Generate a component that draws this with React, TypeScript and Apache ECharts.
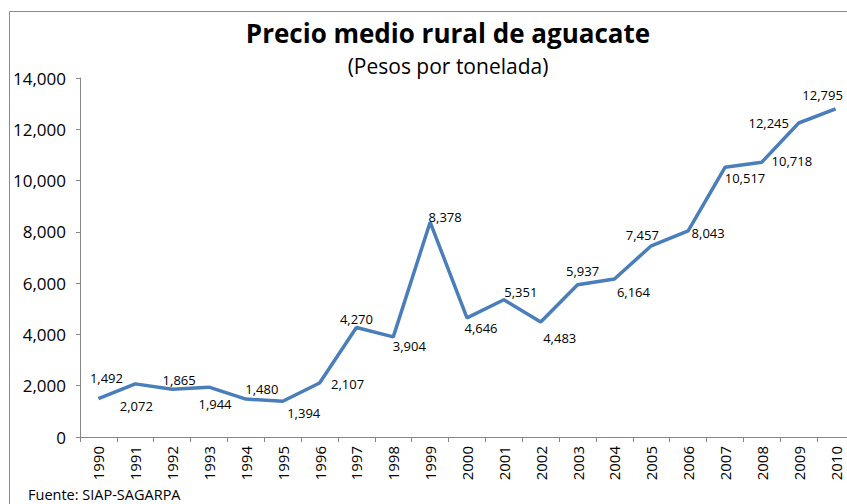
import React, { useEffect, useRef } from "react";
import * as echarts from "echarts";

const years = ["1990","1991","1992","1993","1994","1995","1996","1997","1998","1999","2000","2001","2002","2003","2004","2005","2006","2007","2008","2009","2010"];
const prices = [1492, 2072, 1865, 1944, 1480, 1394, 2107, 4270, 3904, 8378, 4646, 5351, 4483, 5937, 6164, 7457, 8043, 10517, 10718, 12245, 12795];
const yTicks = [0, 2000, 4000, 6000, 8000, 10000, 12000, 14000];
const labelOffsets: [number, number][] = [
  [8, -21], [1, 22], [7, -9], [6, 17], [16, -10], [21, 12], [28, 1], [0, -9], [16, 9], [15, -5],
  [14, 10], [17, -8], [19, 16], [5, -14], [19, 13], [-9, -11], [20, 2], [20, 11], [30, -1], [-30, 0], [-13, -14],
];

const fmt = (v: number) => v.toLocaleString("en-US");
const FONT = "'Open Sans', sans-serif";

export default function App() {
  const ref = useRef<HTMLDivElement>(null);
  useEffect(() => {
    document.body.style.margin = "0";
    const chart = echarts.init(ref.current!, undefined, { renderer: "svg" });
    chart.setOption({
      animation: false,
      backgroundColor: "#ffffff",
      textStyle: { fontFamily: FONT },
      title: [
        {
          text: "Precio medio rural de aguacate",
          left: 443,
          top: 15,
          textAlign: "center",
          textStyle: { fontSize: 26, fontWeight: "bold", color: "#000", fontFamily: FONT },
        },
        {
          text: "(Pesos por tonelada)",
          left: 443,
          top: 50,
          textAlign: "center",
          textStyle: { fontSize: 21, fontWeight: "normal", color: "#000", fontFamily: FONT },
        },
      ],
      graphic: [
        {
          type: "rect",
          shape: { x: 9.5, y: 11.5, width: 900, height: 600 },
          style: { fill: "none", stroke: "#8a8a8a", lineWidth: 1 },
          silent: true,
        },
        {
          type: "text",
          left: 28,
          top: 487,
          style: { text: "Fuente: SIAP-SAGARPA", fontSize: 14.5, fill: "#000", fontFamily: FONT },
        },
      ],
      grid: { left: 80, top: 78, width: 774, height: 359, containLabel: false, outerBoundsMode: "none" },
      xAxis: {
        type: "category",
        data: years,
        boundaryGap: true,
        axisLine: { lineStyle: { color: "#868686", width: 1 } },
        axisTick: { show: true, interval: 0, length: 5, lineStyle: { color: "#868686" } },
        axisLabel: { rotate: 90, interval: 0, fontSize: 15, lineHeight: 14, color: "#000", margin: 9, fontFamily: FONT },
        splitLine: { show: false },
      },
      yAxis: {
        type: "value",
        min: yTicks[0],
        max: yTicks[yTicks.length - 1],
        interval: 2000,
        axisLine: { show: true, lineStyle: { color: "#868686", width: 1 } },
        axisTick: { show: true, length: 4, lineStyle: { color: "#868686" } },
        axisLabel: { fontSize: 17, color: "#000", margin: 14, formatter: (v: number) => fmt(v), fontFamily: FONT },
        splitLine: { show: false },
      },
      series: [
        {
          type: "line",
          data: prices.map((v, i) => ({
            value: v,
            label: { offset: labelOffsets[i] },
          })),
          symbol: "circle",
          symbolSize: 1,
          showSymbol: true,
          itemStyle: { color: "rgba(0,0,0,0)", borderWidth: 0 },
          lineStyle: { color: "#4a7ebb", width: 3.5 },
          label: {
            show: true,
            position: "inside",
            align: "center",
            verticalAlign: "middle",
            fontSize: 13,
            color: "#000",
            fontFamily: FONT,
            formatter: (p: any) => fmt(p.value),
          },
        },
      ],
    });
    return () => chart.dispose();
  }, []);
  return <div ref={ref} style={{ position: "absolute", left: 0, top: 0, width: 847, height: 504 }} />;
}
